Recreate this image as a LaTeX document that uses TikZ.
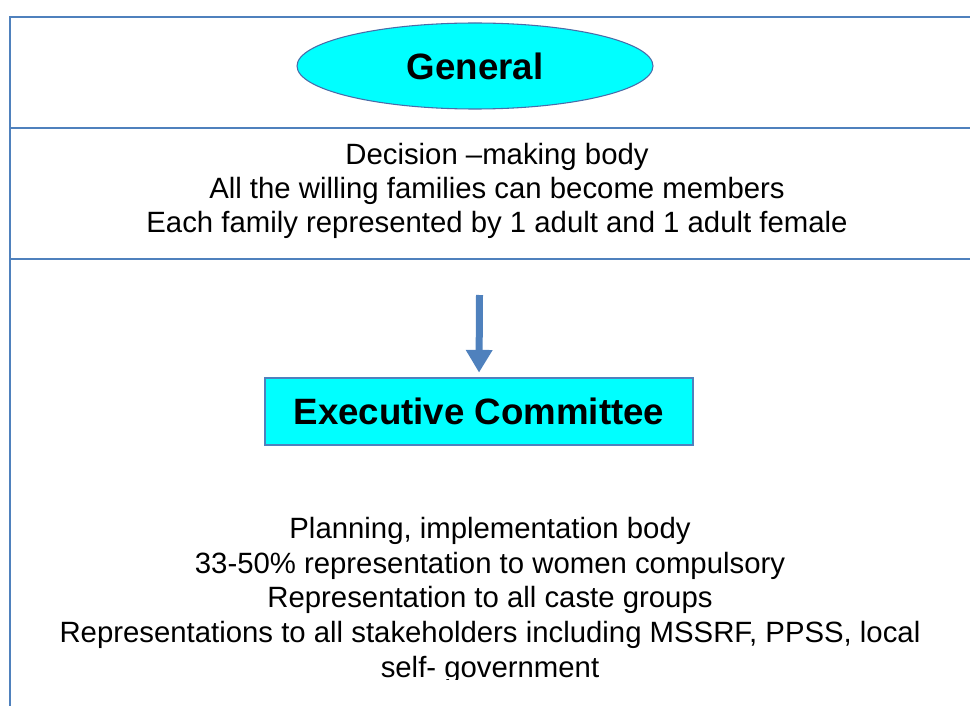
\documentclass[tikz,border=0pt]{standalone}
\usepackage{fontspec}
\setmainfont{Liberation Sans}
\usetikzlibrary{arrows.meta,shapes.geometric}
\definecolor{frameblue}{HTML}{4F81BD}
\definecolor{boxcyan}{HTML}{00FFFF}
\definecolor{ovalline}{HTML}{4A6BA8}

\begin{document}
\begin{tikzpicture}[x=0.75pt,y=-0.75pt,
	frameline/.style={frameblue,line width=1.6pt},
	headtext/.style={font=\fontsize{27.5}{32}\selectfont\bfseries,inner sep=0pt},
	bodytext/.style={align=center,inner sep=0pt},
	flowarrow/.style={frameblue,line width=5.25pt,-{Triangle[length=17pt,width=19pt]}}]
	\useasboundingbox (0,0) rectangle (970,706);
	% table lines
	\draw[frameline] (10,706) -- (10,17) -- (970,17);
	\draw[frameline] (10,128) -- (970,128);
	\draw[frameline] (10,259) -- (970,259);
	% general body
	\node[headtext,ellipse,draw=ovalline,thick,fill=boxcyan,minimum width=267pt,minimum height=64.5pt] (general) at (475,66) {General};
	\node[bodytext,font=\fontsize{22}{25.2}\selectfont,anchor=base] (generalroles) at (497,232) {Decision –making body\\All the willing families can become members\\Each family represented by 1 adult and 1 adult female};
	% executive committee
	\node[headtext,rectangle,draw=frameblue,line width=1.1pt,fill=boxcyan,minimum width=321pt,minimum height=50.25pt] (exec) at (479,411.5) {Executive Committee};
	\coordinate (arrowtop) at (479.5,295);
	\draw[flowarrow,shorten >=3.5pt] (arrowtop) -- (exec.north);
	\begin{scope}
		\clip (12,260) rectangle (970,679);
		\node[bodytext,font=\fontsize{22}{25.9}\selectfont,anchor=base] (execroles) at (490,677) {Planning, implementation body\\33-50\% representation to women compulsory\\Representation to all caste groups\\Representations to all stakeholders including MSSRF, PPSS, local\\self- government};
	\end{scope}
\end{tikzpicture}
\end{document}
